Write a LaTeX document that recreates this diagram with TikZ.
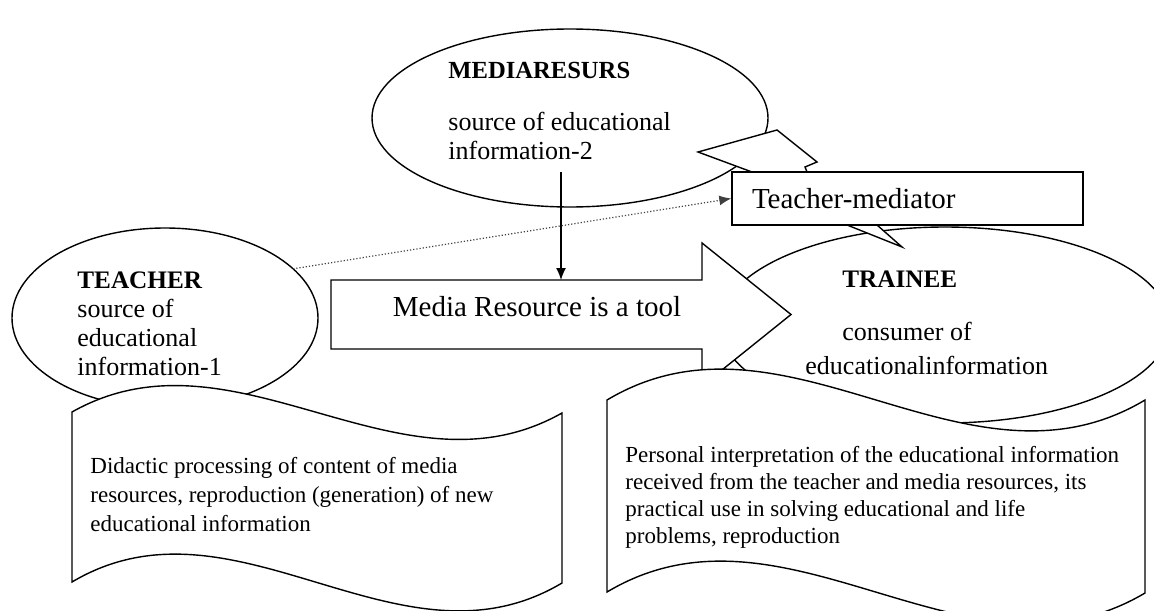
\documentclass[tikz,border=0pt]{standalone}
\usepackage{fontspec}
\setmainfont{Liberation Serif}
\usetikzlibrary{
positioning,
arrows.meta,
shapes.geometric,
calc
}
\tikzset{
ovalbox/.style={
draw,
ellipse,
fill=white,
line width=.7pt,
inner sep=0pt,
outer sep=0pt
},
mediatorbox/.style={
draw,
fill=white,
line width=.7pt,
minimum width=175.5pt,
minimum height=26.5pt,
inner xsep=10pt,
text width=155.5pt,
align=left,
font=\fontsize{14.5}{17}\selectfont
},
pointer/.style={
draw,
fill=white,
line width=.7pt
},
wavebox/.style={
draw,
fill=white,
line width=.7pt
},
ovaltext/.style={
align=left,
inner sep=0pt,
anchor=west,
font=\fontsize{13}{14.5}\selectfont
},
wavetext/.style={
align=left,
inner sep=0pt,
anchor=west,
font=\fontsize{11.5}{14.5}\selectfont
},
arrow/.style={
-{Latex[length=6pt,width=5pt]},
line width=.7pt
},
dotarrow/.style={
-{Latex[length=6pt,width=5pt]},
densely dotted,
draw=black!75,
line width=.6pt
}
}
\begin{document}
\begin{tikzpicture}[x=0.5pt, y=-0.5pt]
\fill[white] (0,0) rectangle (1154,610);
\useasboundingbox (0,0) rectangle (1154,610);

% ovals
\node[ovalbox, minimum width=153pt, minimum height=90pt] (teacher) at (165,318) {};
\node[ovalbox, minimum width=198pt, minimum height=89pt] (media) at (570,118) {};
\node[ovalbox, minimum width=225pt, minimum height=98pt] (trainee) at (945,325) {};

% callout of the mediator
\draw[pointer] (752,172) -- (698,152) -- (777,130) -- (817,162) -- (805,167) -- (807,172);
\draw[pointer] (847,225) -- (902,247) -- (877,225);
\node[mediatorbox] (mediator) at (907.5,198.5) {Teacher-mediator};

% block arrow
\draw[wavebox] (331,280) -- (702,280) -- (702,243) -- (791,314.5) -- (702,386) -- (702,349) -- (331,349) -- cycle;
\node[font=\fontsize{14.5}{17}\selectfont] (tool) at (537,307) {Media Resource is a tool};

% tapes
\draw[wavebox] (72,412) .. controls (235,320) and (399,505) .. (562,413) -- (562,583)
  .. controls (399,680) and (235,485) .. (72,582) -- cycle;
\draw[wavebox] (607,400) .. controls (786,293) and (966,507) .. (1145,400) -- (1145,593)
  .. controls (966,699) and (786,485) .. (607,592) -- cycle;

% texts
\node[ovaltext] (mediatxt) at (448,111) {\fontsize{12.3}{14.5}\selectfont\textbf{MEDIARESURS}\\[11.5pt]source of educational\\information-2};
\node[ovaltext] (teachtxt) at (77,324) {\fontsize{12.6}{14.5}\selectfont\textbf{TEACHER}\\source of\\educational\\information-1};
\node[ovaltext] (traintxt) at (842,323) {\fontsize{12.6}{14.5}\selectfont\textbf{TRAINEE}\\[12pt]consumer of\\[2.5pt]\hspace*{-18.5pt}educationalinformation};
\node[wavetext] (teachwork) at (90,495) {Didactic processing of content of media\\resources, reproduction (generation) of new\\educational information};
\node[wavetext, font=\fontsize{11.5}{13.5}\selectfont] (trainwork) at (625,497) {Personal interpretation of the educational information\\received from the teacher and media resources, its\\practical use in solving educational and life\\problems, reproduction};

% connectors
\coordinate (mediafoot) at (561,172);
\coordinate (shafttop) at (561,280);
\draw[arrow] (mediafoot) -- (shafttop);
\draw[dotarrow] (teacher.21) -- (mediator.west);
\end{tikzpicture}
\end{document}
